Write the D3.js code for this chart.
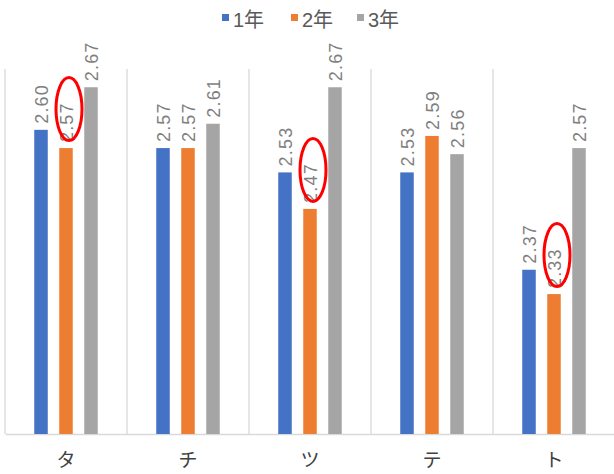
<!DOCTYPE html>
<html>
<head>
<meta charset="utf-8">
<script src="https://cdn.jsdelivr.net/npm/d3@7"></script>
<style>
  html, body { margin: 0; padding: 0; background: #fff; }
  svg { display: block; font-family: "Liberation Sans", Arial, "Noto Sans CJK JP", sans-serif; }
</style>
</head>
<body>
<svg id="chart" width="614" height="474"></svg>
<script>
// Categories, series and values
const categories = ["タ", "チ", "ツ", "テ", "ト"];
const seriesNames = ["1年", "2年", "3年"];
const values1 = [2.60, 2.57, 2.53, 2.53, 2.37];
const values2 = [2.57, 2.57, 2.47, 2.59, 2.33];
const values3 = [2.67, 2.61, 2.67, 2.56, 2.57];
const colors = ["#4472c4", "#ed7d31", "#a5a5a5"];
// Labels circled in red (series 2年)
const highlighted = ["タ", "ツ", "ト"];

const seriesValues = [values1, values2, values3];
const rows = [];
categories.forEach((c, i) => {
  seriesNames.forEach((s, j) => rows.push({ cat: c, series: s, idx: j, value: seriesValues[j][i] }));
});

const svg = d3.select("#chart");
const plot = { left: 5, right: 615, top: 69, bottom: 434 };

const x = d3.scaleBand().domain(categories).range([plot.left, plot.right]).padding(0);
const y = d3.scaleLinear().domain([2.1, 2.7]).range([plot.bottom, plot.top]);
const sub = d3.scaleBand().domain(seriesNames).range([-31.75, 31.75]).paddingInner(0.46).paddingOuter(0);

// Vertical category separators
const bounds = categories.map(c => x(c)).concat([x(categories[categories.length - 1]) + x.bandwidth()]);
svg.append("g").selectAll("line").data(bounds).join("line")
  .attr("x1", d => d).attr("x2", d => d)
  .attr("y1", plot.top).attr("y2", plot.bottom)
  .attr("stroke", "#d9d9d9").attr("stroke-width", 1.3);

// Baseline axis with category labels
const xAxis = svg.append("g")
  .attr("transform", `translate(0,${plot.bottom})`)
  .call(d3.axisBottom(x).tickSize(0).tickPadding(20));
xAxis.select(".domain").attr("stroke", "#d9d9d9").attr("stroke-width", 1.3);
xAxis.selectAll("text")
  .attr("fill", "#404040")
  .style("font-family", "'Noto Sans CJK JP', sans-serif")
  .style("font-size", "19px");

// Bars
const cx = d => x(d.cat) + x.bandwidth() / 2 + sub(d.series);
svg.append("g").selectAll("rect").data(rows).join("rect")
  .attr("x", d => cx(d))
  .attr("y", d => y(d.value))
  .attr("width", sub.bandwidth())
  .attr("height", d => plot.bottom - y(d.value))
  .attr("fill", d => colors[d.idx]);

// Rotated value labels
svg.append("g").selectAll("text").data(rows).join("text")
  .attr("transform", d => `translate(${cx(d) + sub.bandwidth() / 2 + 6.5},${y(d.value) - 6}) rotate(-90)`)
  .attr("text-anchor", "start")
  .attr("fill", "#7f7f7f")
  .style("font-size", "18px")
  .style("letter-spacing", "1.2px")
  .text(d => d.value.toFixed(2));

// Red ellipses around selected labels
svg.append("g").selectAll("ellipse")
  .data(rows.filter(d => d.idx === 1 && highlighted.includes(d.cat)))
  .join("ellipse")
  .attr("cx", d => cx(d) + sub.bandwidth() / 2 + 3)
  .attr("cy", d => y(d.value) - 39)
  .attr("rx", 13)
  .attr("ry", 31.5)
  .attr("fill", "none")
  .attr("stroke", "#ff0000")
  .attr("stroke-width", 3);

// Legend
const legendX = [222, 291, 357];
const legend = svg.append("g").selectAll("g").data(seriesNames).join("g")
  .attr("transform", (d, i) => `translate(${legendX[i]},0)`);
legend.append("rect")
  .attr("x", 0).attr("y", 14).attr("width", 7).attr("height", 7)
  .attr("fill", (d, i) => colors[i]);
legend.append("text")
  .attr("x", 11).attr("y", 27)
  .attr("fill", "#595959")
  .style("font-size", "20px")
  .text(d => d);
</script>
</body>
</html>
